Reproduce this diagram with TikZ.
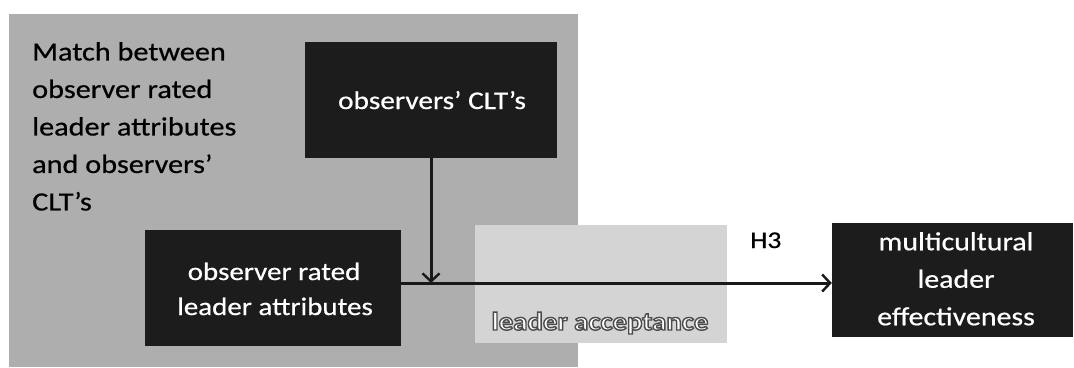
\documentclass[tikz,border=0pt]{standalone}
\usepackage{fontspec}
\setmainfont[FakeStretch=1.15,FakeBold=0.6]{Carlito}
\newfontfamily\heavyfont[FakeStretch=1.13]{Carlito}
\usetikzlibrary{arrows.meta}
\definecolor{panelgray}{HTML}{AEAEAE}
\definecolor{boxdark}{HTML}{1C1C1C}
\definecolor{boxlight}{HTML}{D4D4D4}
\tikzset{
  darkbox/.style={fill=boxdark, inner sep=0pt},
  boxtext/.style={text=white, inner sep=0pt, align=center},
  lightbox/.style={fill=boxlight, inner sep=0pt},
  conn/.style={line width=3pt, draw=black!90,
    -{Straight Barb[length=8pt,width=17pt,line width=2.4pt]}},
}
% white letters with a grey outline (fill + stroke text rendering)
\newcommand{\outlinedtext}[1]{%
  \special{pdf:literal direct q 2 Tr 1.4 w 0.30 0.30 0.30 RG}#1%
  \special{pdf:literal direct Q}}
\begin{document}
\begin{tikzpicture}[x=1pt,y=-1pt]
\useasboundingbox (0,0) rectangle (1074,367);

% grey panel holding the "match" construct
\node[fill=panelgray, inner sep=0pt, minimum width=569pt, minimum height=353pt,
      anchor=north west] (panel) at (9,14) {};

% moderator band
\node[lightbox, minimum width=252pt, minimum height=118pt] (accept) at (601,284) {};
\node[font=\heavyfont\bfseries\fontsize{25.5}{30}\selectfont, text=white,
      inner sep=0pt, anchor=base] (acctext) at (600,330)
     {\outlinedtext{leader acceptance}};

% construct boxes
\node[darkbox, minimum width=252pt, minimum height=116pt] (clt) at (431,100) {};
\node[boxtext, font=\fontsize{25.5}{34}\selectfont, anchor=base]
     (clttext) at (432,109) {observers’ CLT’s};

\node[darkbox, minimum width=256pt, minimum height=116pt] (rated) at (272.5,288) {};
\node[boxtext, font=\fontsize{25.2}{35}\selectfont, anchor=base]
     (ratedtext1) at (274,280) {observer rated};
\node[boxtext, font=\fontsize{25.2}{35}\selectfont, anchor=base]
     (ratedtext2) at (275,315) {leader attributes};

\node[darkbox, minimum width=241pt, minimum height=114pt] (multi) at (952.5,280) {};
\node[boxtext, font=\fontsize{26}{37.5}\selectfont, anchor=north]
     (multitext) at (956,232) {multicultural\\leader\\effectiveness};

% panel caption
\node[anchor=north west, align=left, inner sep=0pt,
      font=\fontsize{26.3}{37.5}\selectfont] (match) at (32,42)
      {Match between\\observer rated\\leader attributes\\and observers’\\CLT’s};

% hypothesis label
\node[anchor=base west, inner sep=0pt, font=\fontsize{24}{28}\selectfont]
     (h3) at (750,248) {H3};

% connectors
\coordinate (j) at (429,283);
\draw[conn] (clt.south) -- (clt.south |- j);
\draw[conn] (rated.east |- j) -- (multi.west |- j);
\end{tikzpicture}
\end{document}
